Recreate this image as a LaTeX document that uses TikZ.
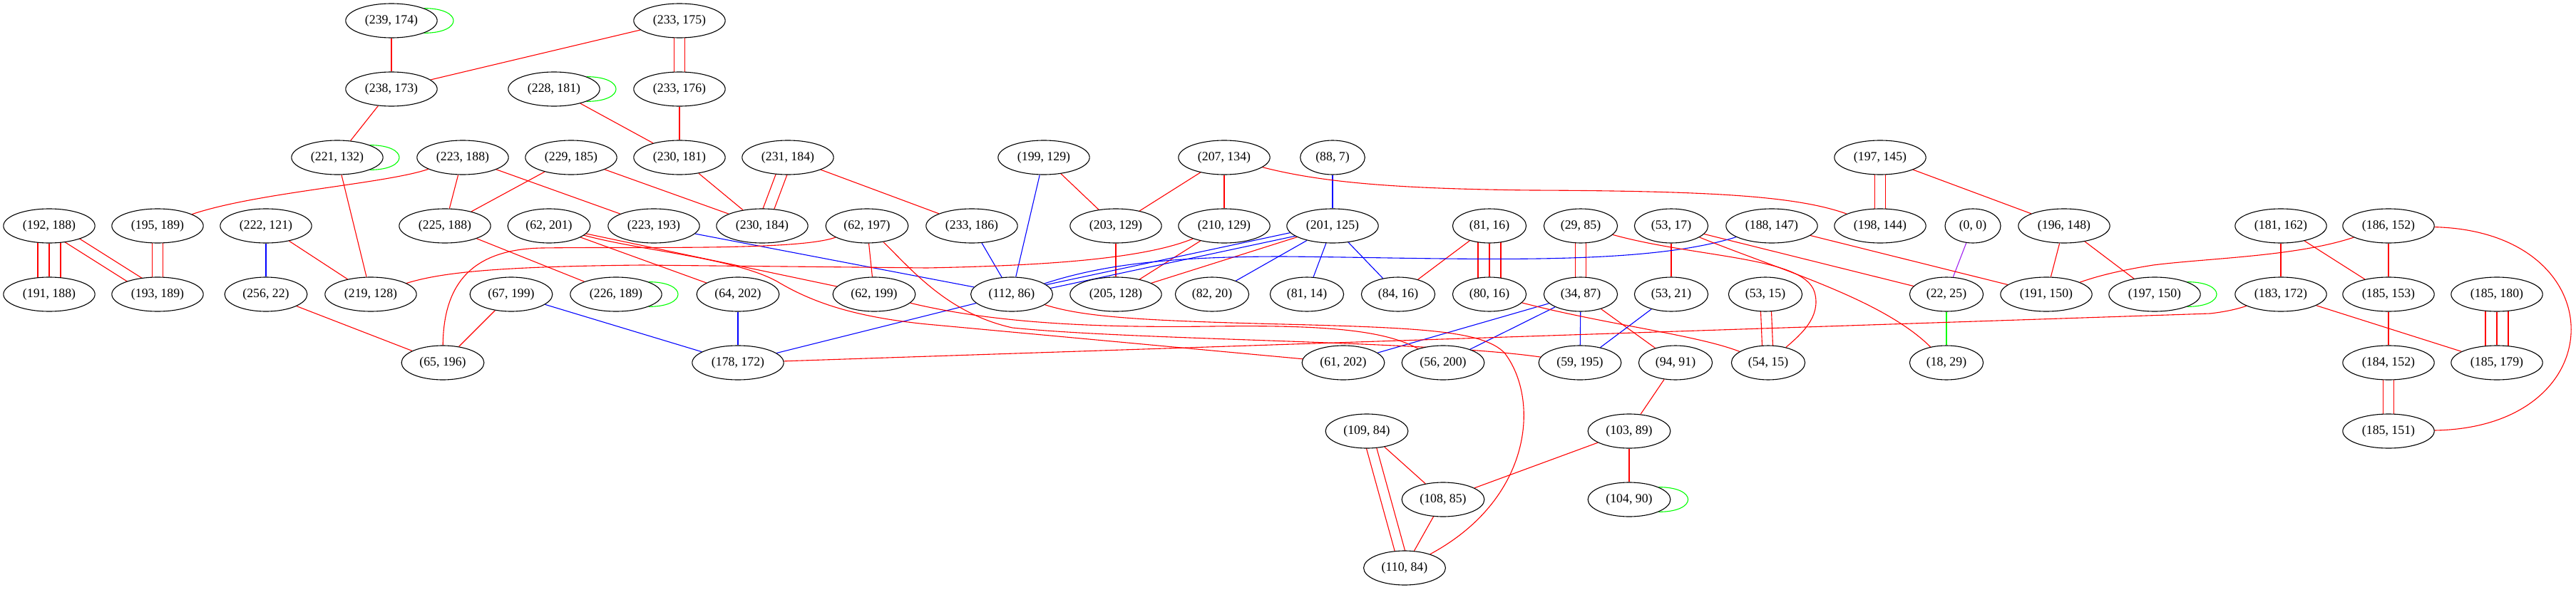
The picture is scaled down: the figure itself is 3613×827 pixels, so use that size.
\documentclass[tikz,border=0pt]{standalone}
\usepackage{fontspec}
\setmainfont{Liberation Serif}
\usetikzlibrary{calc,shapes.geometric}
\pgfdeclarelayer{bg}
\pgfsetlayers{bg,main}
\definecolor{gvpurple}{HTML}{A020F0}
\definecolor{gvgreen}{HTML}{00FF00}
\definecolor{gvred}{HTML}{FF0000}
\definecolor{gvblue}{HTML}{0000FF}
\tikzset{
  nd/.style={ellipse, draw=black, line width=1.1pt, fill=white, inner xsep=8.3pt, inner ysep=2pt, minimum height=48pt, font=\fontsize{17.8}{21}\selectfont},
  ed/.style={line width=1.1pt},
  er/.style={ed, draw=gvred},
  eb/.style={ed, draw=gvblue},
  eg/.style={ed, draw=gvgreen},
  ep/.style={ed, draw=gvpurple},
}
\newcommand{\PairEdge}[4]{%
  \draw[#1] ($(#2)!#4!90:(#3)$) -- ($(#3)!#4!-90:(#2)$);
  \draw[#1] ($(#2)!#4!-90:(#3)$) -- ($(#3)!#4!90:(#2)$);}
\newcommand{\TripleEdge}[4]{\PairEdge{#1}{#2}{#3}{#4}\draw[#1] (#2) -- (#3);}
\newcommand{\SelfLoop}[1]{\draw[eg] (#1.north east) .. controls +(55,0) and +(55,0) .. (#1.south east);}
\begin{document}
\begin{tikzpicture}[x=1pt,y=-1pt]
\useasboundingbox (0,0) rectangle (3613,827);
\begin{pgfonlayer}{bg}
\fill[white] (0,0) rectangle (3613,827);
\end{pgfonlayer}
% row 1
\node[nd] (a239_174) at (549,29) {(239, 174)};
\node[nd] (a233_175) at (953,29) {(233, 175)};
% row 2
\node[nd] (a238_173) at (549,125) {(238, 173)};
\node[nd] (a228_181) at (777,125) {(228, 181)};
\node[nd] (a233_176) at (953,125) {(233, 176)};
% row 3
\node[nd] (a221_132) at (473,221) {(221, 132)};
\node[nd] (a223_188) at (649,221) {(223, 188)};
\node[nd] (a229_185) at (801,221) {(229, 185)};
\node[nd] (a230_181) at (953,221) {(230, 181)};
\node[nd] (a231_184) at (1105,221) {(231, 184)};
\node[nd] (a199_129) at (1464,221) {(199, 129)};
\node[nd] (a207_134) at (1717,221) {(207, 134)};
\node[nd] (a88_7) at (1869,221) {(88, 7)};
\node[nd] (a197_145) at (2637,221) {(197, 145)};
% row 4
\node[nd] (a192_188) at (69,317) {(192, 188)};
\node[nd] (a195_189) at (221,317) {(195, 189)};
\node[nd] (a222_121) at (373,317) {(222, 121)};
\node[nd] (a225_188) at (624,317) {(225, 188)};
\node[nd] (a62_201) at (770,317) {(62, 201)};
\node[nd] (a223_193) at (917,317) {(223, 193)};
\node[nd] (a230_184) at (1069,317) {(230, 184)};
\node[nd] (a62_197) at (1216,317) {(62, 197)};
\node[nd] (a233_186) at (1363,317) {(233, 186)};
\node[nd] (a203_129) at (1565,317) {(203, 129)};
\node[nd] (a210_129) at (1717,317) {(210, 129)};
\node[nd] (a201_125) at (1869,317) {(201, 125)};
\node[nd] (a81_16) at (2089,317) {(81, 16)};
\node[nd] (a29_85) at (2217,317) {(29, 85)};
\node[nd] (a53_17) at (2344,317) {(53, 17)};
\node[nd] (a188_147) at (2485,317) {(188, 147)};
\node[nd] (a198_144) at (2637,317) {(198, 144)};
\node[nd] (a0_0) at (2767,317) {(0, 0)};
\node[nd] (a196_148) at (2895,317) {(196, 148)};
\node[nd] (a181_162) at (3199,317) {(181, 162)};
\node[nd] (a186_152) at (3350,317) {(186, 152)};
% row 5
\node[nd] (a191_188) at (69,413) {(191, 188)};
\node[nd] (a193_189) at (221,413) {(193, 189)};
\node[nd] (a256_22) at (373,413) {(256, 22)};
\node[nd] (a219_128) at (520,413) {(219, 128)};
\node[nd] (a67_199) at (717,413) {(67, 199)};
\node[nd] (a226_189) at (864,413) {(226, 189)};
\node[nd] (a64_202) at (1035,413) {(64, 202)};
\node[nd] (a62_199) at (1226,413) {(62, 199)};
\node[nd] (a112_86) at (1419,413) {(112, 86)};
\node[nd] (a205_128) at (1565,413) {(205, 128)};
\node[nd] (a82_20) at (1700,413) {(82, 20)};
\node[nd] (a81_14) at (1833,413) {(81, 14)};
\node[nd] (a84_16) at (1961,413) {(84, 16)};
\node[nd] (a80_16) at (2089,413) {(80, 16)};
\node[nd] (a34_87) at (2217,413) {(34, 87)};
\node[nd] (a53_21) at (2344,413) {(53, 21)};
\node[nd] (a53_15) at (2476,413) {(53, 15)};
\node[nd] (a22_25) at (2730,413) {(22, 25)};
\node[nd] (a191_150) at (2870,413) {(191, 150)};
\node[nd] (a197_150) at (3022,413) {(197, 150)};
\node[nd] (a183_172) at (3199,413) {(183, 172)};
\node[nd] (a185_153) at (3350,413) {(185, 153)};
\node[nd] (a185_180) at (3502,413) {(185, 180)};
% row 6
\node[nd] (a65_196) at (621,509) {(65, 196)};
\node[nd] (a178_172) at (1035,509) {(178, 172)};
\node[nd] (a61_202) at (1884,509) {(61, 202)};
\node[nd] (a56_200) at (2024,509) {(56, 200)};
\node[nd] (a59_195) at (2216,509) {(59, 195)};
\node[nd] (a94_91) at (2350,509) {(94, 91)};
\node[nd] (a54_15) at (2480,509) {(54, 15)};
\node[nd] (a18_29) at (2730,509) {(18, 29)};
\node[nd] (a184_152) at (3350,509) {(184, 152)};
\node[nd] (a185_179) at (3502,509) {(185, 179)};
% row 7-9
\node[nd] (a109_84) at (1917,605) {(109, 84)};
\node[nd] (a103_89) at (2285,605) {(103, 89)};
\node[nd] (a185_151) at (3350,605) {(185, 151)};
\node[nd] (a108_85) at (2024,701) {(108, 85)};
\node[nd] (a104_90) at (2285,701) {(104, 90)};
\node[nd] (a110_84) at (1970,797) {(110, 84)};

\begin{pgfonlayer}{bg}
% self loops
\SelfLoop{a239_174}
\SelfLoop{a228_181}
\SelfLoop{a221_132}
\SelfLoop{a226_189}
\SelfLoop{a197_150}
\SelfLoop{a104_90}
% straight single edges
\draw[er] (a239_174) -- (a238_173);
\draw[er] (a233_175) -- (a238_173);
\draw[er] (a228_181) -- (a230_181);
\draw[er] (a233_176) -- (a230_181);
\draw[er] (a238_173) -- (a221_132);
\draw[er] (a223_188) -- (a225_188);
\draw[er] (a223_188) -- (a223_193);
\draw[er] (a229_185) -- (a225_188);
\draw[er] (a229_185) -- (a230_184);
\draw[er] (a230_181) -- (a230_184);
\draw[er] (a231_184) -- (a233_186);
\draw[er] (a221_132) -- (a219_128);
\draw[eb] (a222_121) -- (a256_22);
\draw[er] (a222_121) -- (a219_128);
\draw[er] (a225_188) -- (a226_189);
\draw[er] (a62_201) -- (a64_202);
\draw[er] (a62_201) -- (a62_199);
\draw[er] (a256_22) -- (a65_196);
\draw[er] (a67_199) -- (a65_196);
\draw[eb] (a67_199) -- (a178_172);
\draw[eb] (a64_202) -- (a178_172);
\draw[eb] (a223_193) -- (a112_86);
\draw[er] (a62_197) -- (a62_199);
\draw[eb] (a199_129) -- (a112_86);
\draw[er] (a199_129) -- (a203_129);
\draw[er] (a207_134) -- (a203_129);
\draw[er] (a207_134) -- (a210_129);
\draw[eb] (a88_7) -- (a201_125);
\draw[eb] (a233_186) -- (a112_86);
\draw[er] (a203_129) -- (a205_128);
\draw[er] (a210_129) -- (a205_128);
\draw[er] (a201_125) -- (a205_128);
\draw[eb] (a201_125) -- (a82_20);
\draw[eb] (a201_125) -- (a81_14);
\draw[eb] (a201_125) -- (a84_16);
\draw[er] (a81_16) -- (a84_16);
\draw[er] (a53_17) -- (a53_21);
\draw[er] (a53_17) -- (a22_25);
\draw[eb] (a34_87) -- (a61_202);
\draw[eb] (a34_87) -- (a56_200);
\draw[eb] (a34_87) -- (a59_195);
\draw[er] (a34_87) -- (a94_91);
\draw[eb] (a53_21) -- (a59_195);
\draw[er] (a94_91) -- (a103_89);
\draw[er] (a109_84) -- (a108_85);
\draw[er] (a103_89) -- (a108_85);
\draw[er] (a103_89) -- (a104_90);
\draw[er] (a108_85) -- (a110_84);
\draw[er] (a197_145) -- (a196_148);
\draw[ep] (a0_0) -- (a22_25);
\draw[er] (a196_148) -- (a191_150);
\draw[er] (a196_148) -- (a197_150);
\draw[er] (a188_147) -- (a191_150);
\draw[er] (a181_162) -- (a183_172);
\draw[er] (a181_162) -- (a185_153);
\draw[er] (a186_152) -- (a185_153);
\draw[eg] (a22_25) -- (a18_29);
\draw[er] (a183_172) -- (a185_179);
\draw[er] (a185_153) -- (a184_152);
\draw[eb] (a178_172) -- (a112_86);
% multi edges
\PairEdge{er}{a233_175}{a233_176}{7.5pt}
\PairEdge{er}{a231_184}{a230_184}{7.5pt}
\TripleEdge{er}{a192_188}{a191_188}{16pt}
\PairEdge{er}{a192_188}{a193_189}{7.5pt}
\PairEdge{er}{a195_189}{a193_189}{7.5pt}
\PairEdge{eb}{a201_125}{a112_86}{3pt}
\TripleEdge{er}{a81_16}{a80_16}{16pt}
\PairEdge{er}{a29_85}{a34_87}{7.5pt}
\PairEdge{er}{a109_84}{a110_84}{7pt}
\PairEdge{er}{a197_145}{a198_144}{7.5pt}
\PairEdge{er}{a184_152}{a185_151}{7.5pt}
\PairEdge{er}{a53_15}{a54_15}{7.5pt}
\TripleEdge{er}{a185_180}{a185_179}{16pt}
% curved edges
\draw[er] (a223_188) .. controls (540,258) and (360,270) .. (a195_189);
\draw[er] (a62_197) .. controls (1120,352) and (900,346) .. (760,348) .. controls (660,350) and (622,400) .. (a65_196);
\draw[er] (a62_201) .. controls (900,352) and (1030,362) .. (1090,395) .. controls (1140,425) and (1200,445) .. (1300,455) -- (a61_202);
\draw[er] (a210_129) .. controls (1600,365) and (1450,373) .. (1300,376) -- (900,372) .. controls (700,374) and (620,382) .. (a219_128);
\draw[er] (a62_197) .. controls (1280,380) and (1330,440) .. (1420,460) .. controls (1600,478) and (2000,478) .. (a59_195);
\draw[er] (a62_199) .. controls (1400,455) and (1550,460) .. (1700,458) .. controls (1850,456) and (1940,462) .. (a56_200);
\draw[er] (a112_86) .. controls (1520,445) and (1600,450) .. (1800,455) .. controls (2000,460) and (2080,465) .. (2110,495) .. controls (2160,560) and (2150,700) .. (a110_84);
\draw[er] (a207_134) .. controls (1850,255) and (1950,265) .. (2150,267) .. controls (2400,268) and (2520,275) .. (a198_144);
\draw[eb] (a112_86) .. controls (1550,370) and (1650,360) .. (1800,360) .. controls (2050,362) and (2300,375) .. (a188_147);
\draw[er] (a186_152) .. controls (3220,360) and (3100,362) .. (3020,372) .. controls (2970,380) and (2940,388) .. (a191_150);
\draw[er] (a186_152) .. controls (3670,325) and (3670,600) .. (a185_151);
\draw[er] (a178_172) -- (3100,440) .. controls (3125,437) and (3140,433) .. (a183_172);
\draw[er] (a53_17) .. controls (2500,380) and (2640,420) .. (a18_29);
\draw[er] (a29_85) .. controls (2380,362) and (2530,360) .. (2545,410) .. controls (2555,445) and (2525,470) .. (a54_15);
\draw[er] (a80_16) .. controls (2250,455) and (2380,470) .. (a54_15);
\end{pgfonlayer}
\end{tikzpicture}
\end{document}
